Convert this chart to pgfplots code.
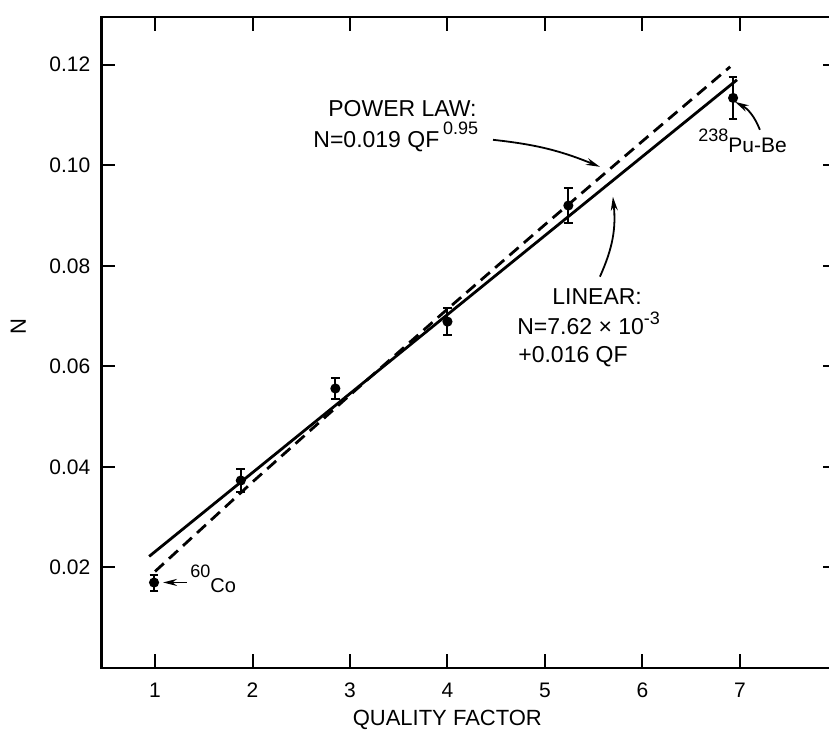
\documentclass[border=0pt]{standalone}
\usepackage{fontspec}
\setmainfont{Liberation Sans}
\usepackage{pgfplots}
\pgfplotsset{compat=1.18}
\usetikzlibrary{arrows.meta}

\newcommand{\ann}{\fontsize{11.5}{13}\selectfont}
\newcommand{\raisedsup}[2]{\raisebox{#1}{\fontsize{9}{10}\selectfont #2}}

\begin{document}
\begin{tikzpicture}
\path[use as bounding box] (0,0) rectangle (414.5pt,367pt);
\begin{axis}[
    at={(50.7pt,33pt)}, anchor=south west,
    scale only axis, width=368pt, height=325.5pt,
    xmin=0.45, xmax=8, ymin=0, ymax=0.1295,
    xtick={1,2,3,4,5,6,7},
    ytick={0.02,0.04,0.06,0.08,0.10,0.12},
    yticklabels={0.02,0.04,0.06,0.08,0.10,0.12},
    axis line style={line width=1.2pt},
    major tick length=7pt,
    tick style={line width=1pt, black},
    tick align=inside,
    /pgf/number format/assume math mode=true,
    ticklabel style={font=\fontsize{10.5}{12}\selectfont},
    yticklabel style={xshift=-2pt},
    xticklabel style={yshift=-4pt},
    xlabel={QUALITY FACTOR},
    ylabel={N},
    label style={font=\fontsize{11}{13}\selectfont},
    xlabel style={at={(axis description cs:0.470,-0.080)}, anchor=center},
    ylabel style={at={(axis description cs:-0.113,0.524)}, anchor=center},
    clip=false,
]
% linear fit
\addplot[black, line width=1.4pt] coordinates {(0.94,0.0222) (6.97,0.1170)};
% power law fit
\addplot[black, line width=1.4pt, dash pattern=on 6pt off 3.5pt] coordinates {
  (1.0,0.0192) (2,0.0370) (3,0.0543) (4,0.0714) (5,0.0882) (6,0.1048) (6.9,0.1196)};
% measurements
\addplot[black, only marks, mark=*, mark size=2pt, line width=1pt,
  error bars/.cd, y dir=both, y explicit,
  error bar style={line width=1pt},
  error mark options={rotate=90, mark size=2.2pt, line width=1pt}]
  coordinates {
  (0.99,0.0170) +- (0,0.0016)
  (1.88,0.0373) +- (0,0.0022)
  (2.85,0.0556) +- (0,0.0021)
  (4.00,0.0689) +- (0,0.0027)
  (5.24,0.0920) +- (0,0.0035)
  (6.93,0.1134) +- (0,0.0042)
};
% annotations
\node[anchor=base west, inner sep=0] at (axis cs:2.774,0.10966) {\ann POWER LAW:};
\node[anchor=base west, inner sep=0] at (axis cs:2.621,0.10349) {\ann N=0.019 QF\,\raisedsup{6.5pt}{0.95}};
\draw[-{Stealth[length=7pt,width=3.5pt]}, line width=0.9pt] (axis cs:4.467,0.10507) to[bend left=8] (axis cs:5.564,0.09970);
\node[anchor=base west, inner sep=0] at (axis cs:5.072,0.07229) {\ann LINEAR:};
\node[anchor=base west, inner sep=0] at (axis cs:4.713,0.06632) {\ann N=7.62 × 10\raisedsup{5pt}{-3}};
\node[anchor=base west, inner sep=0] at (axis cs:4.723,0.06075) {\ann +0.016 QF};
\draw[-{Stealth[length=7pt,width=3.5pt]}, line width=0.9pt] (axis cs:5.564,0.07785) to[bend right=15] (axis cs:5.697,0.09375);
\node[anchor=base west, inner sep=0] at (axis cs:6.569,0.10248) {\raisedsup{5.5pt}{238}\fontsize{10.5}{12}\selectfont Pu-Be};
\draw[-{Stealth[length=7pt,width=3.5pt]}, line width=0.9pt] (axis cs:7.205,0.10706) to[bend right=20] (axis cs:6.949,0.11263);
\draw[-{Stealth[length=7pt,width=3.5pt]}, line width=0.9pt] (axis cs:1.328,0.01702) -- (axis cs:1.082,0.01702);
\node[anchor=base west, inner sep=0] at (axis cs:1.359,0.01503) {\raisedsup{7.5pt}{60}\fontsize{10}{12}\selectfont Co};
\end{axis}
\end{tikzpicture}
\end{document}
